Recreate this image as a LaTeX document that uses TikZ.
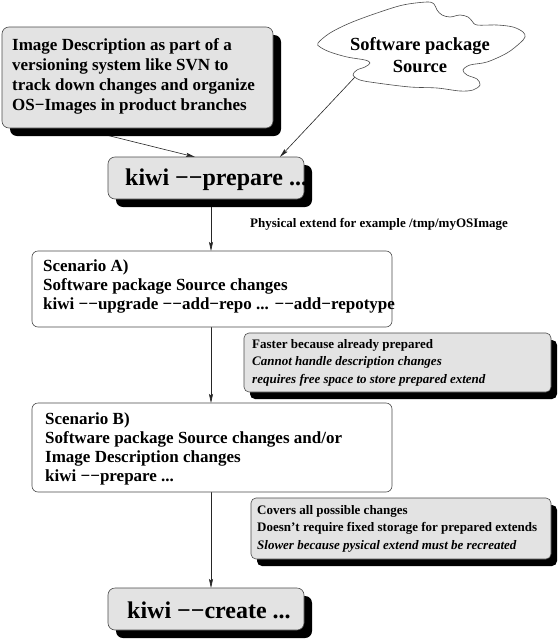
\documentclass[tikz,border=0pt]{standalone}
\usepackage{fontspec}
\setmainfont{Liberation Serif}
\usetikzlibrary{shadows,backgrounds,arrows.meta,calc}
\begin{document}
\begin{tikzpicture}[x=1pt,y=-1pt,
  framebox/.style={draw=black!70,line width=0.6pt,rounded corners=6pt,inner sep=0pt,outer sep=0pt,anchor=north west},
  grayfill/.style={fill=black!11},
  bigshadow/.style={drop shadow={shadow xshift=8pt,shadow yshift=-8pt,fill=black,opacity=1}},
  smallshadow/.style={drop shadow={shadow xshift=6pt,shadow yshift=-7pt,fill=black,opacity=1}},
  txt/.style={anchor=base west,inner sep=0pt,font=\fontsize{17}{19.2}\selectfont\bfseries},
  bigtxt/.style={anchor=base west,inner sep=0pt,font=\fontsize{24}{28}\selectfont\bfseries},
  notetxt/.style={anchor=base west,inner sep=0pt,font=\fontsize{13}{17.8}\selectfont\bfseries},
  conn/.style={draw=black!85,line width=0.6pt,-{Stealth[length=9pt,width=4pt,inset=1.5pt]}}
]
\useasboundingbox (0,0) rectangle (557,640);

% Image description box
\node[framebox,grayfill,bigshadow,rounded corners=7pt,minimum width=271pt,minimum height=101pt] (b1) at (2,27) {};
\node[txt,font=\fontsize{17}{20.3}\selectfont\bfseries] (t1) at (12,50) {\begin{tabular}[t]{@{}l@{}}Image Description as part of a\\versioning system like SVN to\\track down changes and organize\\OS−Images in product branches\end{tabular}};

% Cloud
\draw[draw=black!70,line width=0.6pt] plot[smooth cycle,tension=0.55] coordinates {
 (318,43) (330,33) (350,23) (377,13) (403,5) (427,2) (434,4) (437,10) (442,15) (450,17) (460,15)
 (468,17) (472,21) (477,25) (497,25) (513,27) (523,32) (525,37) (520,43) (507,53) (487,62)
 (470,65) (463,70) (467,75) (477,79) (480,85) (473,90) (460,91) (437,88) (410,87) (377,83)
 (360,80) (353,75) (357,70) (365,67) (370,63) (365,60) (347,57) (330,52) (320,47)};
\node[anchor=base,inner sep=0pt,font=\fontsize{18.5}{22}\selectfont\bfseries] (cloudtxt) at (420,50) {\begin{tabular}[t]{@{}c@{}}Software package\\Source\end{tabular}};
\coordinate (cl) at (355,77);

% kiwi --prepare
\node[framebox,grayfill,bigshadow,rounded corners=7pt,minimum width=196pt,minimum height=42pt] (prep) at (108,157) {};
\node[bigtxt] (tprep) at (125,185) {kiwi −−prepare ...};

\node[notetxt] (phys) at (250,227) {Physical extend for example /tmp/myOSImage};

% Scenario A
\node[framebox,fill=white,minimum width=360pt,minimum height=76pt] (sA) at (32,251) {};
\node[txt] (tA) at (43,271) {\begin{tabular}[t]{@{}l@{}}Scenario A)\\Software package Source changes\\kiwi −−upgrade −−add−repo ... −−add−repotype\end{tabular}};

% Note A
\node[framebox,grayfill,smallshadow,rounded corners=5pt,minimum width=307pt,minimum height=59pt] (nA) at (244,333) {};
\node[notetxt] (tnA) at (252,348) {\begin{tabular}[t]{@{}l@{}}Faster because already prepared\\\textit{Cannot handle description changes}\\\textit{requires free space to store prepared extend}\end{tabular}};

% Scenario B
\node[framebox,fill=white,minimum width=360pt,minimum height=89pt] (sB) at (32,403) {};
\node[txt] (tB) at (45,424) {\begin{tabular}[t]{@{}l@{}}Scenario B)\\Software package Source changes and/or\\Image Description changes\\kiwi −−prepare ...\end{tabular}};

% Note B
\node[framebox,grayfill,smallshadow,rounded corners=5pt,minimum width=300pt,minimum height=61pt] (nB) at (251,498) {};
\node[notetxt] (tnB) at (257,514) {\begin{tabular}[t]{@{}l@{}}Covers all possible changes\\Doesn’t require fixed storage for prepared extends\\\textit{Slower because pysical extend must be recreated}\end{tabular}};

% kiwi --create
\node[framebox,grayfill,bigshadow,rounded corners=7pt,minimum width=196pt,minimum height=42pt] (cr) at (108,588) {};
\node[bigtxt] (tcr) at (127,618) {kiwi −−create ...};

\coordinate (ax) at (211,0);

\begin{scope}[on background layer]
\fill[white] (0,0) rectangle (557,640);
\draw[conn] ($(b1.south west)!0.28!(b1.south east)$) -- ($(prep.north west)!0.444!(prep.north east)$);
\draw[conn] (cl) -- ($(prep.north west)!0.877!(prep.north east)$);
\draw[conn] (prep.south -| ax) -- (sA.north -| ax);
\draw[conn] (sA.south -| ax) -- (sB.north -| ax);
\draw[conn] (sB.south -| ax) -- (cr.north -| ax);
\end{scope}
\end{tikzpicture}
\end{document}
